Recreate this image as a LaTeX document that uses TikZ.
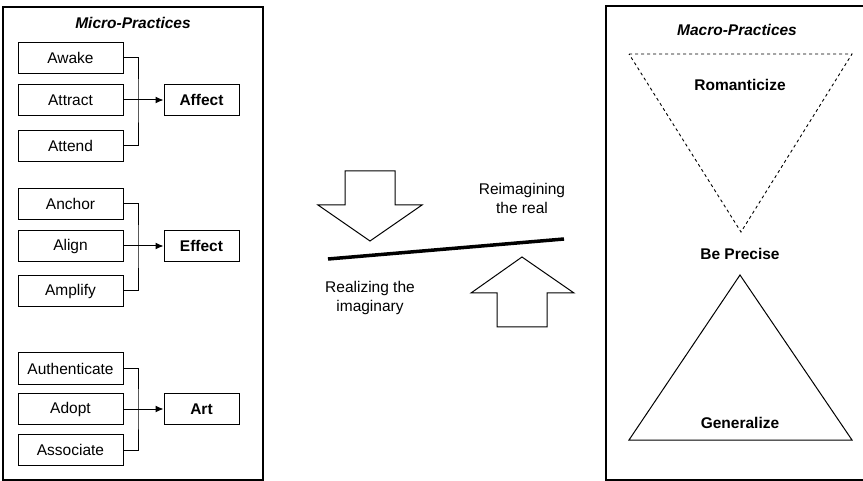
\documentclass[tikz,border=0pt]{standalone}
\usepackage{fontspec}
\setmainfont{Liberation Sans}
\usepackage{tikz}
\usetikzlibrary{positioning}
\usetikzlibrary{arrows.meta}
\tikzset{x=1pt,y=-1pt, % one unit is one pixel of the sketch
every node/.style=
    { % Text of all nodes
        font=\fontsize{15.5}{19}\selectfont
    },
    practice/.style={ % Boxes on the left
        draw,
        line width=1pt,
        minimum width=105pt,
        minimum height=31pt
    },
    outcome/.style={ % Bold boxes the brackets point to
        draw,
        line width=1pt,
        minimum width=75pt,
        minimum height=31pt,
        font=\fontsize{15.5}{19}\selectfont\bfseries
    },
    frame/.style={draw,line width=1.3pt},
    heading/.style={font=\fontsize{15.5}{19}\selectfont\bfseries\itshape},
    bracket/.style={line width=1pt},
    pointer/.style={line width=1pt,-{Latex[length=8pt,width=7pt]}}
}

\begin{document}
\begin{tikzpicture}
\useasboundingbox (0,0) rectangle (863,481);
\clip (0,0) rectangle (863,481);
% frames
\draw[frame] (3,7) rectangle (263,480);
\draw[frame] (606,6) rectangle (866,480);
\node[heading] (micro) at (133,23) {Micro-Practices};
\node[heading] (macro) at (737,30) {Macro-Practices};

\node [practice] (awake)   at (70.5,58)  {Awake};
\node [practice] (attract) at (70.5,100) {Attract};
\node [practice] (attend)  at (70.5,146) {Attend};
\node [outcome]  (affect)  at (201.5,100) {Affect};
%%%%%%%%%%%%%%%%%%%%%%%%%%%%%%%%%%
\node [practice] (anchor)  at (70.5,204) {Anchor};
\node [practice] (align)   at (70.5,246) {Align};
\node [practice] (amplify) at (70.5,291) {Amplify};
\node [outcome]  (effect)  at (201.5,246) {Effect};
%%%%%%%%%%%%%%%%%%%%%%%%%%%%%%%%%%
\node [practice] (authenticate) at (70.5,368.5) {Authenticate};
\node [practice] (adopt)        at (70.5,409)   {Adopt};
\node [practice] (associate)    at (70.5,450)   {Associate};
\node [outcome]  (art)          at (201.5,409)  {Art};

\draw[bracket] (awake.east) -| (138,100) |- (attend.east);
\draw[pointer] (attract) -- (affect);
\draw[bracket] (anchor.east) -| (138,246) |- (amplify.east);
\draw[pointer] (align) -- (effect);
\draw[bracket] (authenticate.east) -| (138,409) |- (associate.east);
\draw[pointer] (adopt) -- (art);

% middle: the two block arrows and the tilted bar
\draw[line width=1pt] (345,171) -- (395,171) -- (395,205) -- (422,205) -- (370,241)
    -- (318,205) -- (345,205) -- cycle;
\draw[line width=1pt] (497,327) -- (547,327) -- (547,293) -- (574,293) -- (522,257)
    -- (471,293) -- (497,293) -- cycle;
\coordinate (barleft) at (328,259);
\coordinate (barright) at (564,239);
\draw[line width=3.5pt] (barleft) -- (barright);
\node[align=center] (real) at (522,198) {Reimagining\\the real};
\node[align=center] (imaginary) at (370,298) {Realizing the\\imaginary};

% right: the two triangles
\draw[line width=0.9pt,dashed] (629,54) -- (852,54) -- (741,232) -- cycle;
\draw[line width=1pt] (740,275) -- (852,440) -- (629,440) -- cycle;
\node[font=\fontsize{15.5}{19}\selectfont\bfseries] (romanticize) at (740,85)  {Romanticize};
\node[font=\fontsize{15.5}{19}\selectfont\bfseries] (precise)     at (740,254) {Be Precise};
\node[font=\fontsize{15.5}{19}\selectfont\bfseries] (generalize)  at (740,423) {Generalize};
\end{tikzpicture}
\end{document}
